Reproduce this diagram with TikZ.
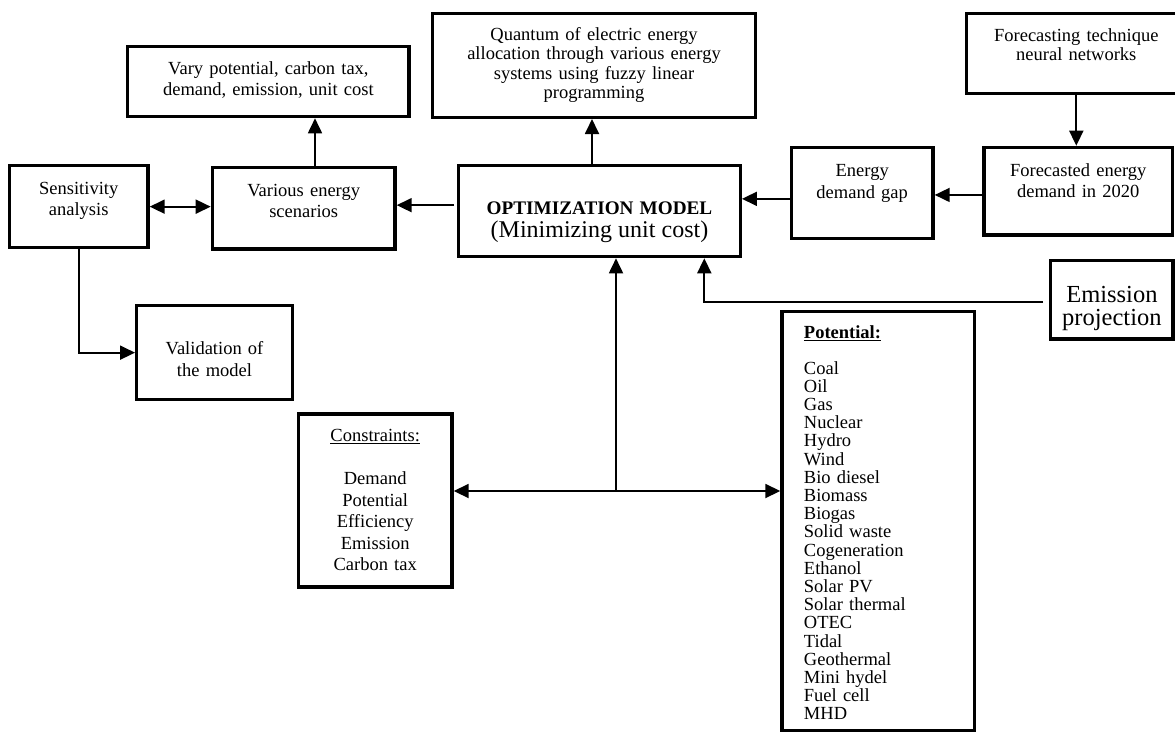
\documentclass[tikz,border=0pt]{standalone}
\usepackage{fontspec}
\setmainfont{Liberation Serif}
\usetikzlibrary{arrows.meta}

\begin{document}
\begin{tikzpicture}[
  x=1pt,y=-1pt,
  caixa/.style={draw,line width=3.3pt,align=center,inner sep=0pt,anchor=north,text height=28pt,font=\fontsize{18.5}{20.5}\selectfont},
  seta/.style={-{Triangle[length=15pt,width=14pt]},line width=1.8pt},
  setadupla/.style={{Triangle[length=15pt,width=14pt]}-{Triangle[length=15pt,width=14pt]},line width=1.8pt}
]
\useasboundingbox (0,0) rectangle (1175,731);
\node[caixa,text width=281.3pt,text depth=42pt] (var) at (268.4,45) {Vary potential, carbon tax,\\demand, emission, unit cost};
\node[caixa,text width=322.6pt,text height=27.3pt,text depth=76.7pt,font=\fontsize{18.5}{19.3}\selectfont] (quant) at (594,11.7) {Quantum of electric energy\\allocation through various energy\\systems using fuzzy linear\\programming};
\node[caixa,text width=219.3pt,text height=28.3pt,text depth=51.7pt,font=\fontsize{18.5}{18.5}\selectfont] (rn) at (1076.3,11.7) {Forecasting technique\\neural networks};
\node[caixa,text width=138.7pt,text height=29pt,text depth=53pt,font=\fontsize{18.5}{21}\selectfont] (sens) at (78.7,164) {Sensitivity\\analysis};
\node[caixa,text width=182.7pt,text height=29.3pt,text depth=52.3pt] (cen) at (303.7,165.7) {Various energy\\scenarios};
\node[caixa,text width=281.6pt,text height=49pt,text depth=42pt] (opt) at (599.5,164) {{\fontsize{19.2}{20.5}\selectfont\bfseries OPTIMIZATION MODEL}\\[2.5pt]{\fontsize{24}{21}\selectfont(Minimizing unit cost)}};
\node[caixa,text width=141.7pt,text height=29.3pt,text depth=61.7pt,font=\fontsize{18.5}{21.5}\selectfont] (gap) at (862.2,145.7) {Energy\\demand gap};
\node[caixa,text width=188.3pt,text height=29.3pt,text depth=58.3pt] (prev) at (1078.2,145.7) {Forecasted energy\\demand in 2020};
\node[caixa,text width=122.3pt,text height=42pt,text depth=36.3pt,font=\fontsize{24.5}{23}\selectfont] (emi) at (1111.9,259) {Emission\\projection};
\node[caixa,text width=155.6pt,text height=49.3pt,text depth=44.7pt,font=\fontsize{18.5}{21.5}\selectfont] (val) at (214.5,304) {Validation of\\the model};
\node[caixa,text width=153.7pt,text height=27.7pt,text depth=145.3pt,font=\fontsize{18.5}{21.5}\selectfont] (res) at (375.2,412.3) {\underline{Constraints:}\\[21.5pt]Demand\\Potential\\Efficiency\\Emission\\Carbon tax};
\node[caixa,align=left,inner xsep=22pt,text width=148.5pt,text height=27.3pt,text depth=392pt,font=\fontsize{18.5}{18.2}\selectfont] (pot) at (878.2,309.7) {\textbf{\underline{Potential:}}\\[17.3pt]Coal\\Oil\\Gas\\Nuclear\\Hydro\\Wind\\Bio diesel\\Biomass\\Biogas\\Solid waste\\Cogeneration\\Ethanol\\Solar PV\\Solar thermal\\OTEC\\Tidal\\Geothermal\\Mini hydel\\Fuel cell\\MHD};
\coordinate (p1) at ([xshift=11.3pt]cen.north);
\coordinate (p2) at ([xshift=-3pt,yshift=6pt]opt.west);
\coordinate (p3) at ([xshift=-2pt]quant.south);
\coordinate (p4) at ([yshift=-6pt]gap.west);
\coordinate (p5) at ([yshift=-3.8pt]prev.west);
\coordinate (p6) at ([xshift=104.8pt]opt.south);
\coordinate (p7) at ([xshift=-6pt,yshift=-1.8pt]emi.west);
\coordinate (jn) at (616,491);
\draw[seta] (p1) -- (p1 |- var.south);
\draw[setadupla] (sens.east) -- (sens.east -| cen.west);
\draw[seta] (p2) -- (p2 -| cen.east);
\draw[seta] (p3 |- opt.north) -- (p3);
\draw[seta] (p4) -- (p4 -| opt.east);
\draw[seta] (p5) -- (p5 -| gap.east);
\draw[seta] (rn.south) -- (rn.south |- prev.north);
\draw[seta] (sens.south) |- (val.west);
\draw[setadupla] (res.east |- jn) -- (pot.west |- jn);
\draw[seta] (jn) -- (jn |- opt.south);
\draw[seta] (p7) -| (p6);
\end{tikzpicture}
\end{document}
